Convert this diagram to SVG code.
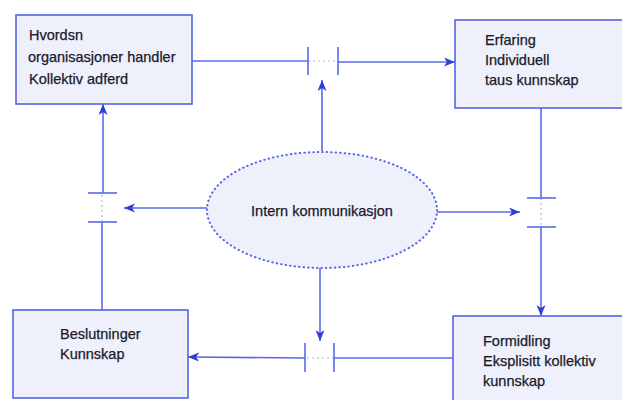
<svg xmlns="http://www.w3.org/2000/svg" width="622" height="400" viewBox="0 0 622 400">
<style>
.box{fill:#eef0fb;stroke:#5563e6;stroke-width:1.6}
.t{font-family:"Liberation Sans",Arial,sans-serif;font-size:14.5px;fill:#1a1a2a;stroke:#1a1a2a;stroke-width:0.25}
.ln{stroke:#5a69ea;stroke-width:1.6;fill:none}
.tick{stroke:#5a69ea;stroke-width:1.6}
.faint{stroke:#c9a6ee;stroke-width:1.2;stroke-dasharray:2 3;fill:none}
</style>
<defs>
<marker id="ah" markerUnits="userSpaceOnUse" markerWidth="14" markerHeight="12" refX="11" refY="4.5" orient="auto">
<path d="M0,0 L11,4.5 L0,9 L3,4.5 z" fill="#2e3ed6"/>
</marker>
</defs>
<rect width="622" height="400" fill="#ffffff"/>
<g id="connectors">
<line class="ln" x1="192" y1="61" x2="308" y2="61"/>
<line class="faint" x1="308" y1="61" x2="338" y2="61"/>
<line class="ln" x1="338" y1="62" x2="455" y2="62" marker-end="url(#ah)"/>
<line class="tick" x1="308" y1="47" x2="308" y2="75"/>
<line class="tick" x1="338" y1="47" x2="338" y2="75"/>
<line class="ln" x1="541" y1="108" x2="541" y2="198"/>
<line class="faint" x1="541" y1="198" x2="541" y2="227"/>
<line class="ln" x1="541" y1="227" x2="541" y2="316" marker-end="url(#ah)"/>
<line class="tick" x1="527" y1="198" x2="556" y2="198"/>
<line class="tick" x1="527" y1="227" x2="556" y2="227"/>
<line class="ln" x1="453" y1="358" x2="334" y2="358"/>
<line class="faint" x1="334" y1="358" x2="305" y2="358"/>
<line class="ln" x1="305" y1="358" x2="188" y2="357" marker-end="url(#ah)"/>
<line class="tick" x1="305" y1="343" x2="305" y2="372"/>
<line class="tick" x1="334" y1="343" x2="334" y2="372"/>
<line class="ln" x1="102" y1="310" x2="102" y2="222"/>
<line class="faint" x1="102" y1="222" x2="102" y2="193"/>
<line class="ln" x1="103" y1="193" x2="103" y2="104" marker-end="url(#ah)"/>
<line class="tick" x1="88" y1="193" x2="117" y2="193"/>
<line class="tick" x1="88" y1="222" x2="117" y2="222"/>
<line class="ln" x1="322" y1="151" x2="322" y2="80" marker-end="url(#ah)"/>
<line class="ln" x1="320" y1="268" x2="320" y2="341" marker-end="url(#ah)"/>
<line class="ln" x1="207" y1="208" x2="124" y2="208" marker-end="url(#ah)"/>
<line class="ln" x1="437" y1="212" x2="520" y2="212" marker-end="url(#ah)"/>
</g>
<g id="node-tl">
<rect class="box" x="16" y="15" width="176" height="89"/>
<text class="t" x="29" y="40">Hvordsn</text>
<text class="t" x="28" y="62">organisasjoner handler</text>
<text class="t" x="29" y="84">Kollektiv adferd</text>
</g>
<g id="node-tr">
<rect class="box" x="455" y="20" width="180" height="88"/>
<text class="t" x="485" y="45">Erfaring</text>
<text class="t" x="485" y="65">Individuell</text>
<text class="t" x="485" y="85">taus kunnskap</text>
</g>
<g id="node-bl">
<rect class="box" x="13" y="310" width="175" height="88"/>
<text class="t" x="60" y="339">Beslutninger</text>
<text class="t" x="60" y="359">Kunnskap</text>
</g>
<g id="node-br">
<rect class="box" x="453" y="316" width="182" height="95"/>
<text class="t" x="483" y="346">Formidling</text>
<text class="t" x="483" y="366">Eksplisitt kollektiv</text>
<text class="t" x="483" y="386">kunnskap</text>
</g>
<g id="node-center">
<ellipse cx="322" cy="210" rx="115" ry="58" fill="#eef0fb" stroke="#5563e6" stroke-width="2" stroke-dasharray="0.5 4" stroke-linecap="round"/>
<text class="t" x="322" y="216" text-anchor="middle">Intern kommunikasjon</text>
</g>
</svg>
